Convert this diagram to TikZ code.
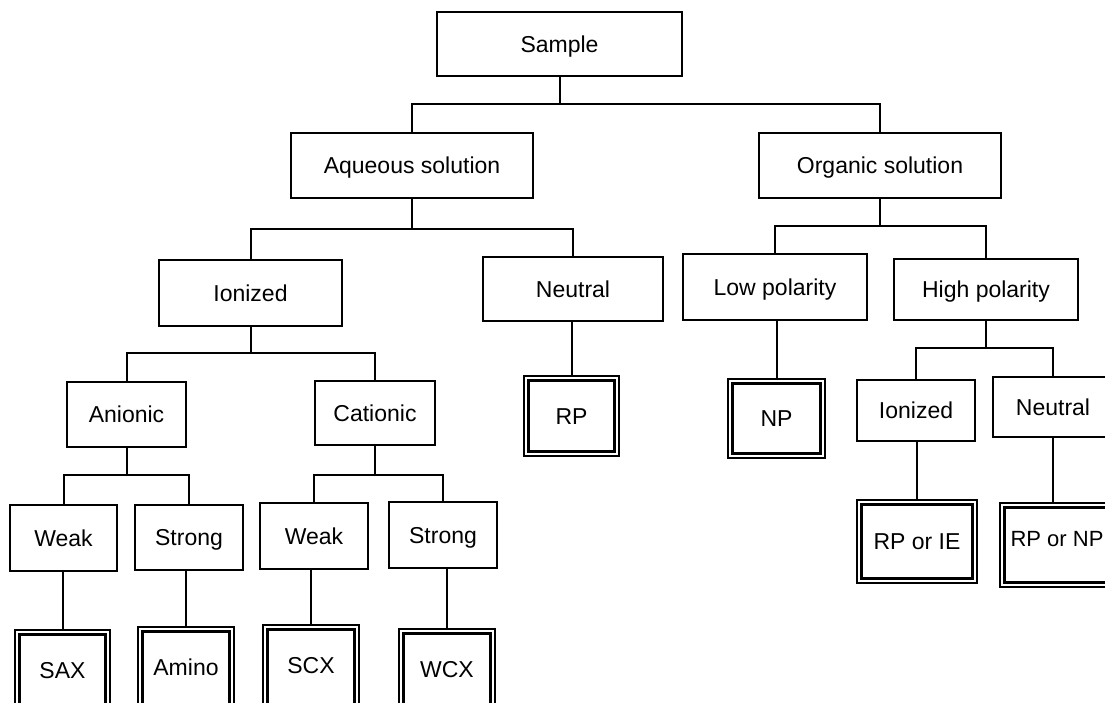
\documentclass[tikz,border=0pt]{standalone}
\usepackage{fontspec}
\setmainfont{Liberation Sans}
\begin{document}
\begin{tikzpicture}[x=1pt,y=-1pt,
  box/.style={draw,line width=2pt,rectangle,inner sep=0pt,
    text height=16.4pt,text depth=0pt,font=\fontsize{23}{27}\selectfont},
  leaf/.style={box,line width=1.3pt},
  conn/.style={line width=2pt},
  inner/.style={line width=2.6pt}]
\useasboundingbox (0,0) rectangle (1105,703);
\clip (0,0) rectangle (1105,703);

% bar levels
\coordinate (b1) at (0,104);
\coordinate (b2) at (0,229);
\coordinate (b3) at (0,226);
\coordinate (b4) at (0,353);
\coordinate (b5) at (0,475);
\coordinate (b6) at (0,348);

% level 0
\node[box,minimum width=245pt,minimum height=64pt] (sample) at (559.5,44) {Sample};
% level 1
\node[box,minimum width=242pt,minimum height=65pt] (aq) at (412,165.5) {Aqueous solution};
\node[box,minimum width=242pt,minimum height=65pt] (org) at (880,165.5) {Organic solution};
% level 2
\node[box,minimum width=183pt,minimum height=66pt] (ion) at (250.5,293) {Ionized};
\node[box,minimum width=180pt,minimum height=64pt] (neu) at (573,289) {Neutral};
\node[box,minimum width=184pt,minimum height=66pt] (low) at (775,287) {Low polarity};
\node[box,minimum width=184pt,minimum height=61pt] (high) at (986,289.5) {High polarity};
% level 3
\node[box,minimum width=119pt,minimum height=65pt] (anion) at (126.5,414.5) {Anionic};
\node[box,minimum width=120pt,minimum height=64pt] (cation) at (375,413) {Cationic};
\node[leaf,minimum width=95pt,minimum height=80pt] (rp) at (571.5,416) {RP};
\node[leaf,minimum width=97pt,minimum height=79pt] (np) at (776.5,418.5) {NP};
\node[box,minimum width=118pt,minimum height=61pt] (ion2) at (916,410.5) {Ionized};
\node[box,minimum width=120pt,minimum height=60pt] (neu2) at (1053,407) {Neutral};
% level 4
\node[box,minimum width=107pt,minimum height=66pt] (weak1) at (63.5,538) {Weak};
\node[box,minimum width=108pt,minimum height=65pt] (strong1) at (189,537.5) {Strong};
\node[box,minimum width=108pt,minimum height=66pt] (weak2) at (314,536) {Weak};
\node[box,minimum width=108pt,minimum height=66pt] (strong2) at (443,535) {Strong};
\node[leaf,minimum width=120pt,minimum height=83pt] (rpie) at (917,541.5) {RP or IE};
\node[leaf,minimum width=120pt,minimum height=84pt] (rpnp) at (1060,545)
  {\hspace*{-6pt}\raisebox{7pt}{\fontsize{22}{26}\selectfont RP or NP}};
% level 5 (cut by the lower edge)
\node[leaf,minimum width=95pt,minimum height=90pt] (sax) at (62.5,675) {\raisebox{5pt}{SAX}};
\node[leaf,minimum width=96pt,minimum height=90pt] (amino) at (186,672) {\raisebox{5pt}{Amino}};
\node[leaf,minimum width=96pt,minimum height=90pt] (scx) at (311,670) {\raisebox{5pt}{SCX}};
\node[leaf,minimum width=96pt,minimum height=90pt] (wcx) at (447,674) {\raisebox{5pt}{WCX}};

% inner frames of the result boxes
\foreach \n in {rp,np,rpie,rpnp,sax,amino,scx,wcx}
  \draw[inner] ([shift={(5pt,-5pt)}]\n.north west) rectangle ([shift={(-5pt,5pt)}]\n.south east);

% connectors
\draw[conn] (sample.south) -- (sample.south |- b1);
\draw[conn] (aq.north) -- (aq.north |- b1) -- (org.north |- b1) -- (org.north);

\draw[conn] (aq.south) -- (aq.south |- b2);
\draw[conn] (ion.north) -- (ion.north |- b2) -- (neu.north |- b2) -- (neu.north);

\draw[conn] (org.south) -- (org.south |- b3);
\draw[conn] (low.north) -- (low.north |- b3) -- (high.north |- b3) -- (high.north);

\draw[conn] (ion.south) -- (ion.south |- b4);
\draw[conn] (anion.north) -- (anion.north |- b4) -- (cation.north |- b4) -- (cation.north);

\draw[conn] (anion.south) -- (anion.south |- b5);
\draw[conn] (weak1.north) -- (weak1.north |- b5) -- (strong1.north |- b5) -- (strong1.north);
\draw[conn] (cation.south) -- (cation.south |- b5);
\draw[conn] (weak2.north) -- (weak2.north |- b5) -- (strong2.north |- b5) -- (strong2.north);

\draw[conn] (rp.north) -- (rp.north |- neu.south);
\draw[conn] (np.north) -- (np.north |- low.south);

\draw[conn] (high.south) -- (high.south |- b6);
\draw[conn] (ion2.north) -- (ion2.north |- b6) -- (neu2.north |- b6) -- (neu2.north);
\draw[conn] (rpie.north) -- (rpie.north |- ion2.south);
\draw[conn] (neu2.south) -- (neu2.south |- rpnp.north);

\draw[conn] (sax.north) -- (sax.north |- weak1.south);
\draw[conn] (amino.north) -- (amino.north |- strong1.south);
\draw[conn] (scx.north) -- (scx.north |- weak2.south);
\draw[conn] (wcx.north) -- (wcx.north |- strong2.south);
\end{tikzpicture}
\end{document}
